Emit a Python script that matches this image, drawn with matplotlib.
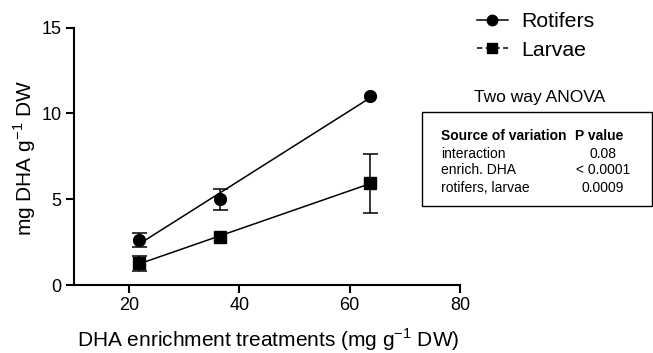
import numpy as np
import matplotlib
matplotlib.use("Agg")
import matplotlib.pyplot as plt
from matplotlib.lines import Line2D

plt.rcParams['font.family'] = ['Liberation Sans', 'DejaVu Sans']

# Data
x_treat = [21.8, 36.4, 63.7]
rotifers = [2.62, 4.99, 11.03]
rotifers_err = [0.40, 0.63, 0.0]
larvae = [1.26, 2.81, 5.92]
larvae_err = [0.45, 0.0, 1.70]

anova_sources = ["interaction", "enrich. DHA", "rotifers, larvae"]
anova_p = ["0.08", "< 0.0001", "0.0009"]

W, H = 653, 353
fig = plt.figure(figsize=(W / 100, H / 100), dpi=100)
ax = fig.add_axes([74 / W, 1 - 285 / H, (460 - 74) / W, (285 - 27.5) / H])

for y, e, m in [(rotifers, rotifers_err, 'o'), (larvae, larvae_err, 's')]:
    ax.plot(x_treat, y, m, color='black', ms=8.5, zorder=4)
    ex = [xi for xi, ei in zip(x_treat, e) if ei > 0]
    ey = [yi for yi, ei in zip(y, e) if ei > 0]
    ee = [ei for ei in e if ei > 0]
    ax.errorbar(ex, ey, yerr=ee, fmt='none', ecolor='black', elinewidth=1.1,
                capsize=5.4, capthick=1.1, zorder=3)
    k, b = np.polyfit(x_treat, y, 1)
    xs = np.array([min(x_treat), max(x_treat)])
    ax.plot(xs, k * xs + b, color='black', lw=1.1, zorder=2)

ax.set_xlim(10, 80)
ax.set_ylim(0, 15)
ax.set_xticks([20, 40, 60, 80])
ax.set_yticks([0, 5, 10, 15])
for s in ['top', 'right']:
    ax.spines[s].set_visible(False)
for s in ['left', 'bottom']:
    ax.spines[s].set_linewidth(1.5)
ax.tick_params(direction='out', length=6, width=1.5, labelsize=13, pad=3)
ax.set_xlabel(r"DHA enrichment treatments (mg g$^{\mathregular{-1}}$ DW)", fontsize=15)
ax.set_ylabel(r"mg DHA g$^{\mathregular{-1}}$ DW", fontsize=15)
ax.xaxis.set_label_coords((268.5 - 74) / 386, (285 - 347) / 257.5)
ax.yaxis.set_label_coords((25 - 74) / 386, (285 - 157.5) / 257.5)
ax.xaxis.label.set_va('baseline')
ax.yaxis.label.set_va('center')

handles = [Line2D([], [], color='black', marker='o', ms=7.5, lw=1.1, ls='-'),
           Line2D([], [], color='black', marker='s', ms=7.5, lw=1.1, ls=(0, (3.5, 2.2)))]
fig.legend(handles, ["Rotifers", "Larvae"], loc='upper left',
           bbox_to_anchor=(477 / W, 1 - 12 / H), frameon=False, fontsize=15.3,
           handlelength=1.45, handletextpad=0.65, labelspacing=0.45,
           borderaxespad=0, borderpad=0)

fig.text(540 / W, 1 - 97 / H, "Two way ANOVA", ha='center', va='center', fontsize=12.5)
fig.patches.append(plt.Rectangle((422 / W, 1 - 206 / H), (652 - 422) / W, (206 - 112) / H,
                                 transform=fig.transFigure, fill=False, lw=1.0,
                                 edgecolor='black'))
fig.text(441 / W, 1 - 140.5 / H, "Source of variation", fontsize=10, fontweight='bold',
         va='baseline', ha='left')
fig.text(575 / W, 1 - 140.5 / H, "P value", fontsize=10, fontweight='bold',
         va='baseline', ha='left')
for i, (s, p) in enumerate(zip(anova_sources, anova_p)):
    yy = 157.5 + i * 17
    fig.text(441 / W, 1 - yy / H, s, fontsize=10, va='baseline', ha='left')
    fig.text(603 / W, 1 - yy / H, p, fontsize=10, va='baseline', ha='center')

fig.savefig("out.png", dpi=100)
